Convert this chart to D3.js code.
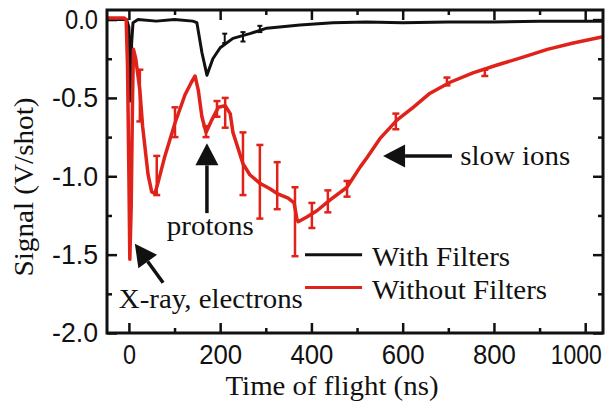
<!DOCTYPE html>
<html>
<head>
<meta charset="utf-8">
<script src="https://cdn.jsdelivr.net/npm/d3@7"></script>
<style>
  body { margin: 0; background: #fff; }
  svg text { fill: #111; }
</style>
</head>
<body>
<div id="vis"></div>
<script>
const FRAME_WIDTH = 608;
const FRAME_HEIGHT = 406;
const MARGINS = {left: 107, right: 5, top: 10, bottom: 73};
const VIS_WIDTH = FRAME_WIDTH - MARGINS.left - MARGINS.right;
const VIS_HEIGHT = FRAME_HEIGHT - MARGINS.top - MARGINS.bottom;

// time of flight (ns) and signal (V/shot)
const WITH_T = [-48, -5, 0, 3, 6, 9, 20, 60, 100, 140, 149, 160, 171, 184, 200, 228, 265, 302, 375, 447, 520, 600, 700, 800, 900, 1039];
const WITH_V = [0.0, 0.0, -0.05, -0.52, -0.15, -0.02, 0.0, -0.01, 0.0, -0.01, -0.02, -0.21, -0.355, -0.25, -0.18, -0.12, -0.09, -0.055, -0.035, -0.02, -0.015, -0.02, -0.015, -0.015, -0.01, -0.01];

const WITHOUT_T = [-48, -10, -6, -3, 0, 2, 5, 8, 10, 15, 24, 30, 42, 50, 57, 63, 79, 101, 123, 137, 145, 152, 160, 169, 180, 196, 211, 222, 228, 250, 265, 287, 309, 325, 349, 362, 368, 371, 390, 412, 441, 478, 507, 522, 550, 588, 623, 660, 704, 754, 807, 864, 917, 974, 1039];
const WITHOUT_V = [0.01, 0.01, 0.0, -0.3, -1.0, -1.53, -1.2, -0.5, -0.19, -0.25, -0.45, -0.68, -0.99, -1.10, -1.11, -1.05, -0.87, -0.66, -0.48, -0.40, -0.36, -0.45, -0.62, -0.72, -0.65, -0.56, -0.55, -0.60, -0.72, -0.92, -0.99, -1.045, -1.08, -1.11, -1.14, -1.17, -1.27, -1.29, -1.26, -1.22, -1.15, -1.07, -0.94, -0.88, -0.76, -0.64, -0.56, -0.47, -0.40, -0.34, -0.29, -0.24, -0.19, -0.15, -0.11];

// error bars: time, low, high
const WITH_ERR_T = [210, 250, 287];
const WITH_ERR_LO = [-0.15, -0.14, -0.08];
const WITH_ERR_HI = [-0.09, -0.08, -0.04];

const WITHOUT_ERR_T = [24, 61, 101, 169, 193, 211, 250, 287, 325, 364, 401, 436, 478, 585, 697, 780];
const WITHOUT_ERR_LO = [-0.65, -1.12, -0.75, -0.75, -0.62, -0.69, -1.12, -1.27, -1.21, -1.51, -1.33, -1.23, -1.13, -0.70, -0.42, -0.36];
const WITHOUT_ERR_HI = [-0.32, -0.87, -0.56, -0.68, -0.52, -0.50, -0.72, -0.80, -0.91, -1.07, -1.17, -1.09, -1.03, -0.60, -0.37, -0.32];

const X_MAJOR = [0, 200, 400, 600, 800, 1000];
const X_MINOR = [100, 300, 500, 700, 900];
const Y_MAJOR = [0.0, -0.5, -1.0, -1.5, -2.0];
const Y_MINOR = [-0.25, -0.75, -1.25, -1.75];

const RED = "#e0231a";
const BLACK = "#111111";

const zip = (a, b) => a.map((d, i) => [d, b[i]]);

// squeeze or stretch a text to the width it has in the figure
function fit(sel, w) {
  sel.attr("textLength", w).attr("lengthAdjust", "spacingAndGlyphs");
}

const FRAME = d3.select("#vis")
                .append("svg")
                  .attr("width", FRAME_WIDTH)
                  .attr("height", FRAME_HEIGHT)
                  .style("font-family", "'Liberation Serif', 'Times New Roman', Tinos, serif");

// a wide serif face (DejaVu) needs a smaller size to get Times-like glyph heights
const PROBE = FRAME.append("text").attr("font-size", "28px").text("Time of flight (ns)");
const PROBE_W = PROBE.node().getComputedTextLength();
PROBE.remove();
const FONT_SIZE = PROBE_W > 230 ? 26 : 28;

const X_SCALE = d3.scaleLinear().domain([-48, 1039]).range([0, VIS_WIDTH]);
const Y_SCALE = d3.scaleLinear().domain([-2.0, 0.061]).range([VIS_HEIGHT, 0]);

const G = FRAME.append("g")
               .attr("transform", "translate(" + MARGINS.left + "," + MARGINS.top + ")");

// axes, ticks pointing inward on all four sides
function styleAxis(sel) {
  sel.select(".domain").remove();
  sel.selectAll(".tick line").attr("stroke", BLACK).attr("stroke-width", 2.5);
  sel.selectAll(".tick text")
     .attr("font-size", FONT_SIZE + "px")
     .attr("font-family", null)
     .attr("fill", "#111");
}

G.append("g").attr("transform", "translate(0," + VIS_HEIGHT + ")")
  .call(d3.axisBottom(X_SCALE).tickValues(X_MAJOR).tickSize(-10).tickPadding(11).tickFormat(d3.format("d")))
  .call(styleAxis)
  .selectAll(".tick text")
    .each(function(d) {
      fit(d3.select(this), d === 0 ? 13 : d === 1000 ? 51 : 43);
      if (d === 1000) d3.select(this).attr("text-anchor", "end").attr("dx", 16);
    });
G.append("g").attr("transform", "translate(0," + VIS_HEIGHT + ")")
  .call(d3.axisBottom(X_SCALE).tickValues(X_MINOR).tickSize(-5).tickFormat(""))
  .call(styleAxis);
G.append("g")
  .call(d3.axisTop(X_SCALE).tickValues(X_MAJOR).tickSize(-10).tickFormat(""))
  .call(styleAxis);
G.append("g")
  .call(d3.axisTop(X_SCALE).tickValues(X_MINOR).tickSize(-5).tickFormat(""))
  .call(styleAxis);

G.append("g")
  .call(d3.axisLeft(Y_SCALE).tickValues(Y_MAJOR).tickSize(-10).tickPadding(9).tickFormat((d) => d.toFixed(1)))
  .call(styleAxis)
  .selectAll(".tick text")
    .each(function(d) { fit(d3.select(this), d === 0 ? 33 : 46); });
G.append("g")
  .call(d3.axisLeft(Y_SCALE).tickValues(Y_MINOR).tickSize(-5).tickFormat(""))
  .call(styleAxis);
G.append("g").attr("transform", "translate(" + VIS_WIDTH + ",0)")
  .call(d3.axisRight(Y_SCALE).tickValues(Y_MAJOR).tickSize(-10).tickFormat(""))
  .call(styleAxis);
G.append("g").attr("transform", "translate(" + VIS_WIDTH + ",0)")
  .call(d3.axisRight(Y_SCALE).tickValues(Y_MINOR).tickSize(-5).tickFormat(""))
  .call(styleAxis);

const LINE = d3.line()
               .x((d) => X_SCALE(d[0]))
               .y((d) => Y_SCALE(d[1]));

function errorBars(ts, lo, hi, color, width, cap) {
  const bars = G.append("g").attr("stroke", color).attr("stroke-width", width);
  ts.forEach((t, i) => {
    const x = X_SCALE(t);
    bars.append("line").attr("x1", x).attr("x2", x).attr("y1", Y_SCALE(lo[i])).attr("y2", Y_SCALE(hi[i]));
    [lo[i], hi[i]].forEach((v) => {
      bars.append("line").attr("x1", x - cap).attr("x2", x + cap).attr("y1", Y_SCALE(v)).attr("y2", Y_SCALE(v));
    });
  });
}

// with filters (black)
G.append("path")
  .datum(zip(WITH_T, WITH_V))
  .attr("d", LINE)
  .attr("fill", "none")
  .attr("stroke", BLACK)
  .attr("stroke-width", 3)
  .attr("stroke-linejoin", "round");
errorBars(WITH_ERR_T, WITH_ERR_LO, WITH_ERR_HI, BLACK, 2, 2.5);

// without filters (red)
G.append("path")
  .datum(zip(WITHOUT_T, WITHOUT_V))
  .attr("d", LINE)
  .attr("fill", "none")
  .attr("stroke", RED)
  .attr("stroke-width", 3.5)
  .attr("stroke-linejoin", "round");
errorBars(WITHOUT_ERR_T, WITHOUT_ERR_LO, WITHOUT_ERR_HI, RED, 2.5, 3.5);

// frame
G.append("rect")
  .attr("x", 0).attr("y", 0)
  .attr("width", VIS_WIDTH).attr("height", VIS_HEIGHT)
  .attr("fill", "none")
  .attr("stroke", BLACK)
  .attr("stroke-width", 3);

// arrows with filled heads
function arrow(x1, y1, x2, y2) {
  const a = Math.atan2(y2 - y1, x2 - x1);
  const len = 22, half = 11.5;
  const bx = x2 - len * Math.cos(a), by = y2 - len * Math.sin(a);
  G.append("line")
    .attr("x1", x1).attr("y1", y1).attr("x2", bx).attr("y2", by)
    .attr("stroke", BLACK).attr("stroke-width", 3.5);
  G.append("path")
    .attr("d", "M" + x2 + "," + y2 +
               "L" + (bx + half * Math.sin(a)) + "," + (by - half * Math.cos(a)) +
               "L" + (bx - half * Math.sin(a)) + "," + (by + half * Math.cos(a)) + "Z")
    .attr("fill", BLACK);
}

arrow(X_SCALE(75), Y_SCALE(-1.68), X_SCALE(13), Y_SCALE(-1.43));
arrow(X_SCALE(171), Y_SCALE(-1.235), X_SCALE(171), Y_SCALE(-0.79));
arrow(X_SCALE(708), Y_SCALE(-0.87), X_SCALE(557), Y_SCALE(-0.87));

const NOTES = [["X-ray, electrons", -22, -1.84, 184], ["protons", 83, -1.375, 87], ["slow ions", 726, -0.93, 110]];
NOTES.forEach((d) => {
  G.append("text")
    .attr("x", X_SCALE(d[1])).attr("y", Y_SCALE(d[2]))
    .attr("font-size", FONT_SIZE + "px")
    .text(d[0])
    .call(fit, d[3]);
});

// legend
const LEGEND = [["With Filters", BLACK, -1.50, -1.57, 138], ["Without Filters", RED, -1.71, -1.78, 175]];
LEGEND.forEach((d) => {
  G.append("line")
    .attr("x1", X_SCALE(386)).attr("x2", X_SCALE(511))
    .attr("y1", Y_SCALE(d[2])).attr("y2", Y_SCALE(d[2]))
    .attr("stroke", d[1]).attr("stroke-width", 3);
  G.append("text")
    .attr("x", X_SCALE(533)).attr("y", Y_SCALE(d[3]))
    .attr("font-size", FONT_SIZE + "px")
    .text(d[0])
    .call(fit, d[4]);
});

// axis titles
FRAME.append("text")
  .attr("x", 332).attr("y", 395)
  .attr("text-anchor", "middle")
  .attr("font-size", FONT_SIZE + "px")
  .text("Time of flight (ns)")
  .call(fit, 213);

FRAME.append("text")
  .attr("transform", "translate(33,187) rotate(-90)")
  .attr("text-anchor", "middle")
  .attr("font-size", FONT_SIZE + "px")
  .text("Signal (V/shot)")
  .call(fit, 179);
</script>
</body>
</html>
